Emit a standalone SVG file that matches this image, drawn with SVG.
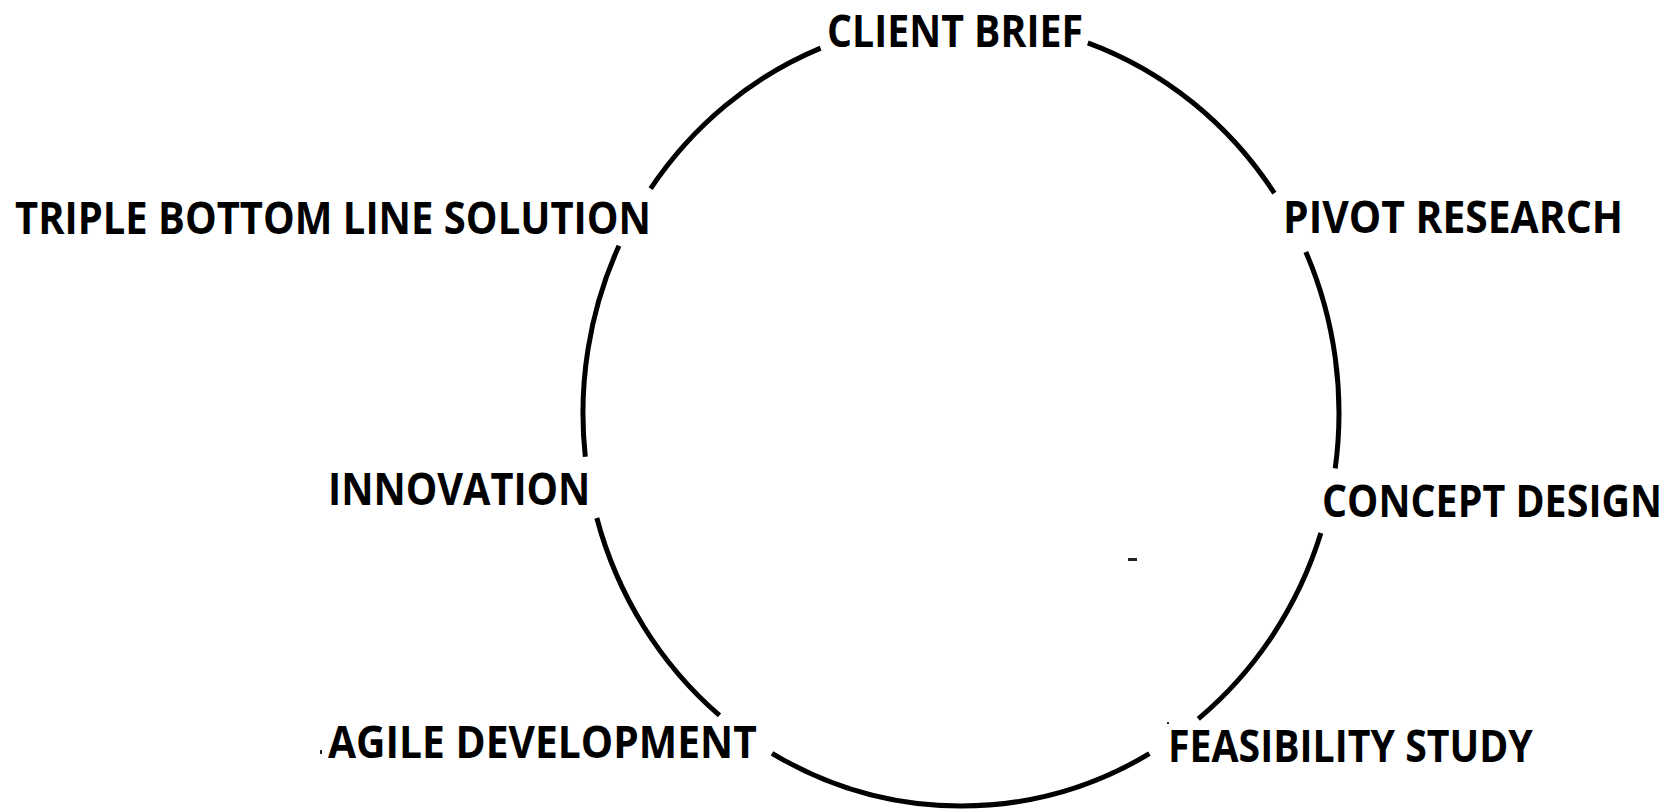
<svg xmlns="http://www.w3.org/2000/svg" width="1676" height="810" viewBox="0 0 1676 810">
  <style>
    .label { font-family: "Open Sans", "Liberation Sans", sans-serif; font-weight: 700; font-size: 45px; fill: #000; }
    .ring { fill: none; stroke: #000; stroke-width: 5; stroke-linecap: butt; }
    .speck { fill: #222; }
  </style>
  <rect width="1676" height="810" fill="#fff"/>

  <!-- Cycle ring, broken where each stage label sits -->
  <g id="connectors">
    <path class="ring" d="M1087.8,42.8 A378,393 0 0 1 1274.4,193.2"/>
    <path class="ring" d="M1305.8,251.9 A378,393 0 0 1 1335.2,468.4"/>
    <path class="ring" d="M1320.9,533.1 A378,393 0 0 1 1198.3,718.8"/>
    <path class="ring" d="M1149.4,753.7 A378,393 0 0 1 772,753.3"/>
    <path class="ring" d="M719.5,715.4 A378,393 0 0 1 596.8,518"/>
    <path class="ring" d="M585.3,456.8 A378,393 0 0 1 619,245.7"/>
    <path class="ring" d="M650.6,188.7 A378,393 0 0 1 820.6,48.1"/>
  </g>

  <!-- labels are drawn in a condensed (x-scaled) bold face -->
  <g id="client-brief">
    <text class="label" font-size="44" transform="translate(827 47) scale(0.8 1)" x="0" y="0" textLength="320" lengthAdjust="spacingAndGlyphs">CLIENT BRIEF</text>
  </g>
  <g id="pivot-research">
    <text class="label" transform="translate(1283 233) scale(0.8 1)" x="0" y="0" textLength="425" lengthAdjust="spacingAndGlyphs">PIVOT RESEARCH</text>
  </g>
  <g id="concept-design">
    <text class="label" transform="translate(1322 517) scale(0.8 1)" x="0" y="0" textLength="425" lengthAdjust="spacingAndGlyphs">CONCEPT DESIGN</text>
  </g>
  <g id="feasibility-study">
    <text class="label" transform="translate(1168 762) scale(0.8 1)" x="0" y="0" textLength="456" lengthAdjust="spacingAndGlyphs">FEASIBILITY STUDY</text>
  </g>
  <g id="agile-development">
    <text class="label" transform="translate(328 758) scale(0.8 1)" x="0" y="0" textLength="536" lengthAdjust="spacingAndGlyphs">AGILE DEVELOPMENT</text>
  </g>
  <g id="innovation">
    <text class="label" transform="translate(328 505) scale(0.8 1)" x="0" y="0" textLength="328" lengthAdjust="spacingAndGlyphs">INNOVATION</text>
  </g>
  <g id="triple-bottom-line-solution">
    <text class="label" transform="translate(15 234) scale(0.8 1)" x="0" y="0" textLength="795" lengthAdjust="spacingAndGlyphs">TRIPLE BOTTOM LINE SOLUTION</text>
  </g>

  <!-- small stray marks -->
  <rect class="speck" x="1128" y="558" width="9" height="3"/>
  <rect class="speck" x="320" y="750" width="2" height="4"/>
  <rect class="speck" x="1167" y="722" width="2" height="2"/>
</svg>
